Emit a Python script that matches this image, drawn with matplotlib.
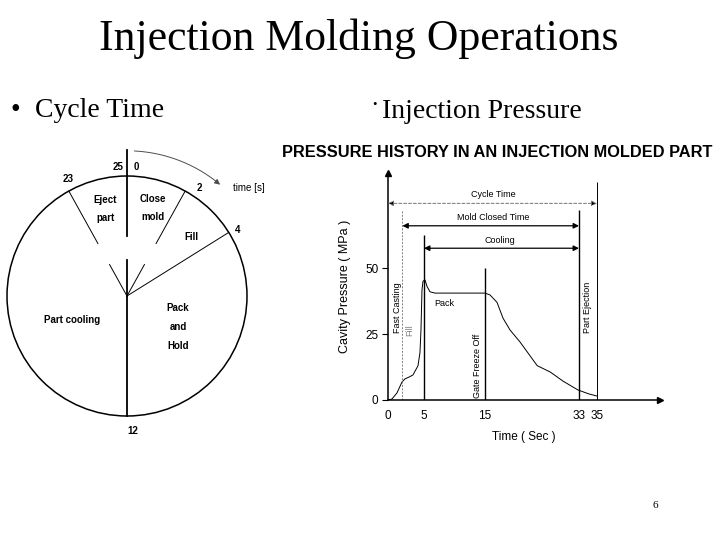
import numpy as np
import matplotlib
matplotlib.use("Agg")
import matplotlib.pyplot as plt
from matplotlib.patches import Circle

plt.rcParams['font.family'] = ['Liberation Sans', 'DejaVu Sans']

# ── Data ──────────────────────────────────────────────────────────────────────

# cycle-time wheel (25 s cycle), boundary labels and drawn angles (deg, clockwise from top)
boundary_labels = ['0', '2', '4', '12', '23']
boundary_deg = [0, 29, 58, 180, 331]
boundary_gapped = [True, True, False, False, True]
phase_names = ['Eject\n\npart', 'Close\n\nmold', 'Fill', 'Pack\n\nand\n\nHold', 'Part cooling']

# cavity pressure history
time_s = [0, 0.56, 1.25, 1.94, 2.36, 3.0, 3.47, 4.17, 4.44, 4.58, 4.72, 4.86,
          5.16, 5.5, 5.98, 6.8, 10, 15, 15.96, 17.3, 18.45, 19.8, 21.7,
          25, 27.5, 29.9, 32.8, 34.1, 35]
pressure_mpa = [0, 0.4, 2.7, 6.8, 8.0, 8.8, 9.5, 13, 18, 26.5, 41.7, 45,
                45.5, 43, 41, 40.5, 40.5, 40.5, 39.8, 37, 31, 26.5, 22,
                13, 10.6, 7.2, 3.8, 2.3, 1.5]

event_t = [2, 5, 15, 33, 35]
event_top = [72, 62.5, 50, 72, 82.5]
event_names = ['Fast Casting', None, 'Gate Freeze Off', None, 'Part Ejection']

span_names = ['Cycle Time', 'Mold Closed Time', 'Cooling']
span_start = [0, 2, 5]
span_end = [35, 33, 33]
span_level = [74.5, 66, 57.5]

x_ticks = [0, 5, 15, 33, 35]
y_ticks = [0, 25, 50]

# hand-drawn (non-linear) time axis of the original sketch
T_KNOTS = [0, 5, 15, 33, 35, 42]
P_KNOTS = [0, 36, 97, 191, 209, 272]

# ── Figure ────────────────────────────────────────────────────────────────────

W, H = 720, 540
fig = plt.figure(figsize=(7.2, 5.4), dpi=100)


def fx(px):
    return px / W


def fy(py):
    return 1 - py / H


serif = 'Liberation Serif'
fig.text(fx(359), fy(50), 'Injection Molding Operations', family=serif,
         fontsize=31.5, ha='center', va='baseline')
fig.text(fx(10), fy(117), '•', family=serif, fontsize=20, va='baseline')
fig.text(fx(35), fy(117), 'Cycle Time', family=serif, fontsize=20, va='baseline')
fig.text(fx(372), fy(105), '•', family=serif, fontsize=9, va='center')
fig.text(fx(382), fy(118), 'Injection Pressure', family=serif, fontsize=20,
         va='baseline')
fig.text(fx(655), fy(505), '6', family=serif, fontsize=8, ha='center', va='center')

# ── Left: cycle wheel ─────────────────────────────────────────────────────────

axc = fig.add_axes([0, (H - 450) / H, 260 / W, 310 / H])
axc.set_xlim(-127 / 120, 133 / 120)
axc.set_ylim(-154 / 120, 156 / 120)
axc.axis('off')
axc.add_patch(Circle((0, 0), 1, fill=False, lw=1.1, color='black'))

for deg, gap in zip(boundary_deg, boundary_gapped):
    sx, sy = np.sin(np.radians(deg)), np.cos(np.radians(deg))
    lw = 1.3 if deg in (0, 180) else 0.7
    if gap:
        outer = 1.22 if deg == 0 else 1.0
        axc.plot([0, 0.3 * sx], [0, 0.3 * sy], color='black', lw=lw)
        axc.plot([0.5 * sx, outer * sx], [0.5 * sy, outer * sy], color='black', lw=lw)
    else:
        axc.plot([0, sx], [0, sy], color='black', lw=lw)

lab_kw = dict(fontsize=7, fontweight='bold', ha='center', va='center')
axc.text(-0.075, 1.075, '25', **lab_kw)
axc.text(0.075, 1.075, boundary_labels[0], **lab_kw)
axc.text(0.6, 0.9, boundary_labels[1], **lab_kw)
axc.text(0.92, 0.55, boundary_labels[2], **lab_kw)
axc.text(0.05, -1.125, boundary_labels[3], **lab_kw)
axc.text(-0.49, 0.975, boundary_labels[4], **lab_kw)
axc.text(0.88, 0.9, 'time [s]', fontsize=7, ha='left', va='center')

axc.text(-0.183, 0.725, phase_names[0], linespacing=0.85, **lab_kw)
axc.text(0.217, 0.733, phase_names[1], linespacing=0.85, **lab_kw)
axc.text(0.54, 0.49, phase_names[2], **lab_kw)
axc.text(0.425, -0.26, phase_names[3], linespacing=0.95, **lab_kw)
axc.text(-0.46, -0.2, phase_names[4], **lab_kw)

arc = np.radians(np.linspace(3, 38, 60))
axc.plot(1.21 * np.sin(arc), 1.21 * np.cos(arc), color='0.3', lw=0.7)
a1, a2 = np.radians(37), np.radians(41)
axc.annotate('', xy=(1.21 * np.sin(a2), 1.21 * np.cos(a2)),
             xytext=(1.21 * np.sin(a1), 1.21 * np.cos(a1)),
             arrowprops=dict(arrowstyle='-|>', color='0.3', lw=0.7, mutation_scale=8))

# ── Right: pressure history ───────────────────────────────────────────────────

fig.text(fx(497), fy(157), 'PRESSURE HISTORY IN AN INJECTION MOLDED PART',
         fontsize=11.8, fontweight='bold', ha='center', va='baseline')

axp = fig.add_axes([388 / W, (H - 400) / H, 272 / W, 227 / H])
axp.set_xscale('function', functions=(lambda x: np.interp(x, T_KNOTS, P_KNOTS),
                                      lambda y: np.interp(y, P_KNOTS, T_KNOTS)))
axp.set_xlim(0, 42)
axp.set_ylim(0, 86)
axp.patch.set_alpha(0)
for s in ('top', 'right'):
    axp.spines[s].set_visible(False)
for s in ('left', 'bottom'):
    axp.spines[s].set_linewidth(1.1)

axp.plot(1, 0, '>k', ms=5, transform=axp.get_yaxis_transform(), clip_on=False)
axp.plot(0, 1, '^k', ms=5, transform=axp.get_xaxis_transform(), clip_on=False)

axp.plot(time_s, pressure_mpa, color='black', lw=0.7)

for t, top, name in zip(event_t, event_top, event_names):
    if t == 2:
        axp.vlines(t, 0, top, color='0.5', lw=0.7, linestyles=(0, (2, 1.5)))
    else:
        axp.vlines(t, 0, top, color='black', lw=1.0 if t != 35 else 0.7)

axp.text(1.25, 35, event_names[0], rotation=90, fontsize=6.5, ha='center', va='center')
axp.text(3.05, 26.5, 'Fill', rotation=90, fontsize=6.5, color='0.5',
         ha='center', va='center')
axp.text(13.7, 13, event_names[2], rotation=90, fontsize=6.5, ha='center', va='center')
axp.text(34.0, 35, event_names[4], rotation=90, fontsize=6.5, ha='center', va='center')
axp.text(8.4, 36.7, 'Pack', fontsize=6.5, ha='center', va='center')

for name, t0, t1, lev in zip(span_names, span_start, span_end, span_level):
    if name == 'Cycle Time':
        props = dict(arrowstyle='<|-|>', ec='0.45', fc='black', lw=0.7,
                     ls=(0, (3, 2)), mutation_scale=8, shrinkA=0, shrinkB=0)
    else:
        props = dict(arrowstyle='<|-|>', color='black', lw=0.9,
                     mutation_scale=8, shrinkA=0, shrinkB=0)
    axp.annotate('', xy=(t1, lev), xytext=(t0, lev), arrowprops=props)

axp.text(16.5, 78, span_names[0], fontsize=6.5, ha='center', va='center')
axp.text(16.5, 69.3, span_names[1], fontsize=6.5, ha='center', va='center')
axp.text(17.9, 60.6, span_names[2], fontsize=6.5, ha='center', va='center')

axp.set_xticks(x_ticks)
axp.set_xticklabels([str(v) for v in x_ticks])
axp.set_yticks(y_ticks)
axp.minorticks_off()
axp.tick_params(axis='x', length=0, pad=7, labelsize=8.5)
axp.tick_params(axis='y', length=4, width=0.8, pad=3, labelsize=8.5)
axp.set_xlabel('Time ( Sec )', fontsize=8.5, labelpad=7)
axp.set_ylabel('Cavity Pressure ( MPa )', fontsize=9, labelpad=10)

fig.savefig('out.png', dpi=100)
